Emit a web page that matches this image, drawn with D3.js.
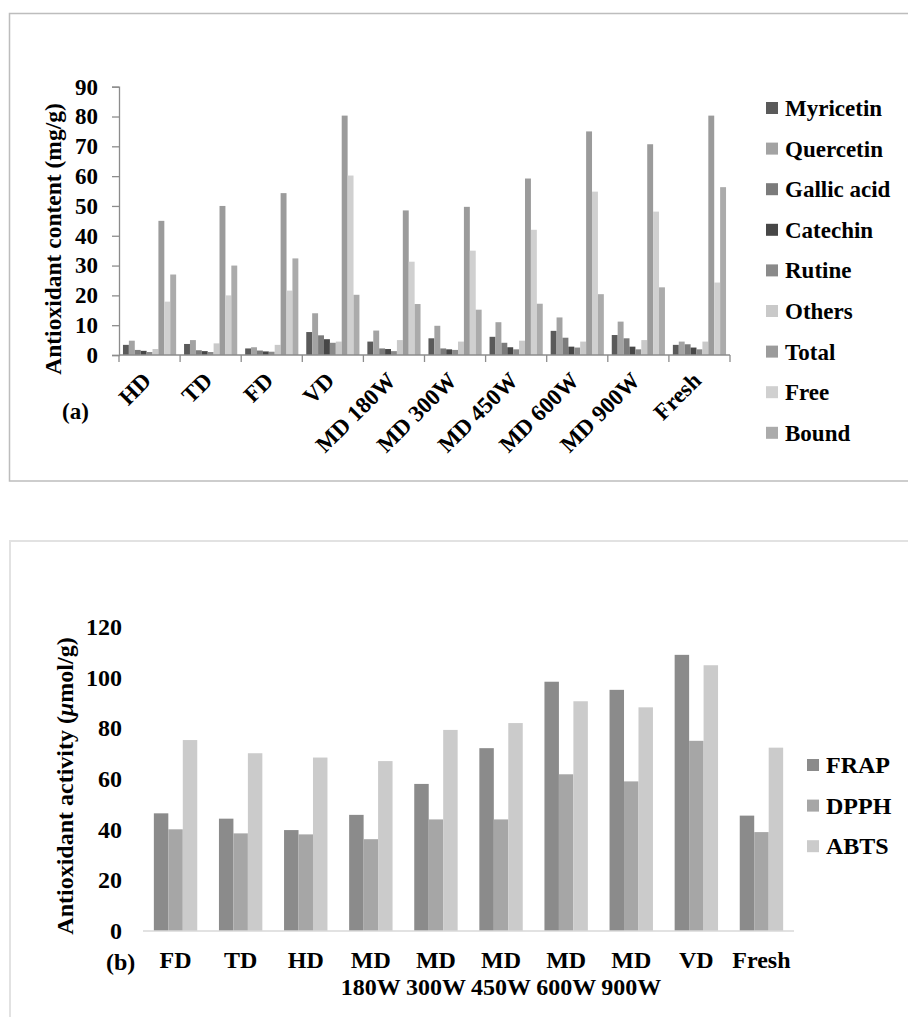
<!DOCTYPE html>
<html>
<head>
<meta charset="utf-8">
<script src="https://cdn.jsdelivr.net/npm/d3@7/dist/d3.min.js"></script>
<style>
  html, body { margin: 0; padding: 0; background: #fff; }
  svg text { font-family: "Liberation Serif", "Times New Roman", serif; font-weight: bold; fill: #000; }
</style>
</head>
<body>
<svg id="fig" width="908" height="1017"></svg>
<script>
// ---------- Panel (a): antioxidant content by drying method ----------
const methodsA = ["HD", "TD", "FD", "VD", "MD 180W", "MD 300W", "MD 450W", "MD 600W", "MD 900W", "Fresh"];
const compoundsA = ["Myricetin", "Quercetin", "Gallic acid", "Catechin", "Rutine", "Others", "Total", "Free", "Bound"];
const myricetin  = [3.4, 3.7, 2.2, 7.7, 4.5, 5.6, 6.1, 8.1, 6.7, 3.4];
const quercetin  = [4.8, 5.0, 2.6, 14.0, 8.2, 9.8, 11.0, 12.6, 11.2, 4.5];
const gallicAcid = [1.7, 1.6, 1.5, 6.6, 2.2, 2.2, 4.1, 5.8, 5.6, 3.6];
const catechin   = [1.4, 1.3, 1.2, 5.3, 2.0, 1.9, 2.6, 2.8, 2.8, 2.5];
const rutine     = [1.0, 1.0, 1.1, 4.1, 1.3, 1.7, 1.9, 2.5, 1.9, 1.9];
const others     = [2.0, 3.9, 3.4, 4.5, 5.0, 4.5, 4.8, 4.5, 5.0, 4.5];
const total      = [45.0, 50.0, 54.3, 80.3, 48.5, 49.7, 59.2, 75.0, 70.7, 80.3];
const free       = [17.9, 20.0, 21.6, 60.2, 31.3, 35.0, 42.0, 54.8, 48.1, 24.3];
const bound      = [27.0, 30.0, 32.4, 20.2, 17.1, 15.2, 17.2, 20.4, 22.7, 56.3];
const seriesA = [myricetin, quercetin, gallicAcid, catechin, rutine, others, total, free, bound];
const yTicksA = [0, 10, 20, 30, 40, 50, 60, 70, 80, 90];

// ---------- Panel (b): antioxidant activity by drying method ----------
const methodsB = [["FD"], ["TD"], ["HD"], ["MD", "180W"], ["MD", "300W"], ["MD", "450W"], ["MD", "600W"], ["MD", "900W"], ["VD"], ["Fresh"]];
const assaysB = ["FRAP", "DPPH", "ABTS"];
const frap = [46.4, 44.3, 39.8, 45.8, 58.0, 72.1, 98.3, 95.1, 108.9, 45.5];
const dpph = [40.1, 38.5, 38.1, 36.2, 44.0, 44.0, 61.8, 59.0, 75.0, 39.0];
const abts = [75.3, 70.1, 68.4, 67.0, 79.3, 82.0, 90.6, 88.2, 104.8, 72.3];
const seriesB = [frap, dpph, abts];
const yTicksB = [0, 20, 40, 60, 80, 100, 120];

const svg = d3.select("#fig");

// ================= Panel (a) =================
const colorsA = ["#5a5a5a", "#a3a3a3", "#7b7b7b", "#474747", "#8a8a8a", "#c9c9c9", "#9b9b9b", "#d0d0d0", "#ababab"];
const gA = svg.append("g");

// frame
gA.append("path").attr("d", "M909,13.5 H9.5 V481 H909")
  .attr("fill", "none").attr("stroke", "#bdbdbd").attr("stroke-width", 1.5);

const xA = d3.scaleBand().domain(d3.range(methodsA.length)).range([119, 730]).padding(0);
const innerA = d3.scaleBand().domain(d3.range(compoundsA.length))
  .range([0, xA.bandwidth()]).paddingOuter(0.67).paddingInner(0);
const yA = d3.scaleLinear().domain([0, 90]).range([355, 86.7]);

seriesA.forEach((vals, s) => {
  gA.append("g").selectAll("rect").data(vals).join("rect")
    .attr("x", (d, i) => xA(i) + innerA(s))
    .attr("width", innerA.bandwidth())
    .attr("y", d => yA(d))
    .attr("height", d => yA(0) - yA(d))
    .attr("fill", colorsA[s]);
});

// y axis
const yAxisA = gA.append("g").attr("transform", "translate(119,0)")
  .call(d3.axisLeft(yA).tickValues(yTicksA).tickSize(7).tickPadding(14));
yAxisA.select(".domain").attr("stroke", "#8c8c8c").attr("stroke-width", 1.3);
yAxisA.selectAll(".tick line").attr("stroke", "#8c8c8c").attr("stroke-width", 1.3);
yAxisA.selectAll(".tick text").style("font-size", "23px").attr("font-family", null);

// x axis: category boundaries as ticks
const xLineA = gA.append("g");
xLineA.append("line").attr("x1", 119).attr("x2", 730).attr("y1", yA(0)).attr("y2", yA(0))
  .attr("stroke", "#8c8c8c").attr("stroke-width", 1.3);
xLineA.selectAll("line.tk").data(d3.range(methodsA.length + 1)).join("line").attr("class", "tk")
  .attr("x1", i => i < methodsA.length ? xA(i) : xA(i - 1) + xA.bandwidth())
  .attr("x2", i => i < methodsA.length ? xA(i) : xA(i - 1) + xA.bandwidth())
  .attr("y1", yA(0)).attr("y2", yA(0) + 7)
  .attr("stroke", "#8c8c8c").attr("stroke-width", 1.3);

gA.append("g").selectAll("text").data(methodsA).join("text")
  .attr("transform", (d, i) => `translate(${xA(i) + xA.bandwidth() / 2 + 3},${yA(0) + 27}) rotate(-45)`)
  .attr("text-anchor", "end")
  .style("font-size", "23px")
  .text(d => d);

gA.append("text")
  .attr("transform", "translate(61,239) rotate(-90)")
  .attr("text-anchor", "middle")
  .style("font-size", "23.5px")
  .text("Antioxidant  content (mg/g)");

gA.append("text").attr("x", 62).attr("y", 419).style("font-size", "23px").text("(a)");

// legend
const legA = gA.append("g").selectAll("g").data(compoundsA).join("g")
  .attr("transform", (d, i) => `translate(766,${108 + i * 40.6})`);
legA.append("rect").attr("x", 0).attr("y", -6).attr("width", 12).attr("height", 12)
  .attr("fill", (d, i) => colorsA[i]);
legA.append("text").attr("x", 19).attr("y", 8).style("font-size", "23px").text(d => d);

// ================= Panel (b) =================
const colorsB = ["#8b8b8b", "#a6a6a6", "#cbcbcb"];
const gB = svg.append("g");

gB.append("path").attr("d", "M909,541 H10 V1018")
  .attr("fill", "none").attr("stroke", "#e2e2e2").attr("stroke-width", 2);

const xB = d3.scaleBand().domain(d3.range(methodsB.length)).range([143, 794]).padding(0);
const innerB = d3.scaleBand().domain(d3.range(assaysB.length))
  .range([0, xB.bandwidth()]).paddingOuter(0.75).paddingInner(0);
const yB = d3.scaleLinear().domain([0, 120]).range([931, 626.7]);

seriesB.forEach((vals, s) => {
  gB.append("g").selectAll("rect").data(vals).join("rect")
    .attr("x", (d, i) => xB(i) + innerB(s))
    .attr("width", innerB.bandwidth())
    .attr("y", d => yB(d))
    .attr("height", d => yB(0) - yB(d))
    .attr("fill", colorsB[s]);
});

// baseline
gB.append("line").attr("x1", 143).attr("x2", 794).attr("y1", yB(0)).attr("y2", yB(0))
  .attr("stroke", "#d9d9d9").attr("stroke-width", 1.5);

// y axis labels (no axis line)
const yAxisB = gB.append("g").attr("transform", "translate(122,0)")
  .call(d3.axisLeft(yB).tickValues(yTicksB).tickSize(0).tickPadding(0));
yAxisB.select(".domain").remove();
yAxisB.selectAll(".tick text").style("font-size", "24px").attr("font-family", null);

// category labels, one or two lines
const xLabB = gB.append("g").selectAll("text").data(methodsB).join("text")
  .attr("text-anchor", "middle")
  .attr("x", (d, i) => xB(i) + xB.bandwidth() / 2)
  .attr("y", 968)
  .style("font-size", "24px");
xLabB.selectAll("tspan").data(d => d).join("tspan")
  .attr("x", function () { return d3.select(this.parentNode).attr("x"); })
  .attr("dy", (d, j) => j === 0 ? 0 : 27)
  .text(d => d);

const yLabB = gB.append("text")
  .attr("transform", "translate(73,786) rotate(-90)")
  .attr("text-anchor", "middle")
  .style("font-size", "24px");
yLabB.append("tspan").text("Antioxidant  activity (");
yLabB.append("tspan").style("font-style", "italic").text("μ");
yLabB.append("tspan").text("mol/g)");

gB.append("text").attr("x", 106).attr("y", 970).style("font-size", "24px").text("(b)");

const legB = gB.append("g").selectAll("g").data(assaysB).join("g")
  .attr("transform", (d, i) => `translate(807,${765 + i * 40.6})`);
legB.append("rect").attr("x", 0).attr("y", -6).attr("width", 12).attr("height", 12)
  .attr("fill", (d, i) => colorsB[i]);
legB.append("text").attr("x", 19).attr("y", 8).style("font-size", "24px").text(d => d);
</script>
</body>
</html>
